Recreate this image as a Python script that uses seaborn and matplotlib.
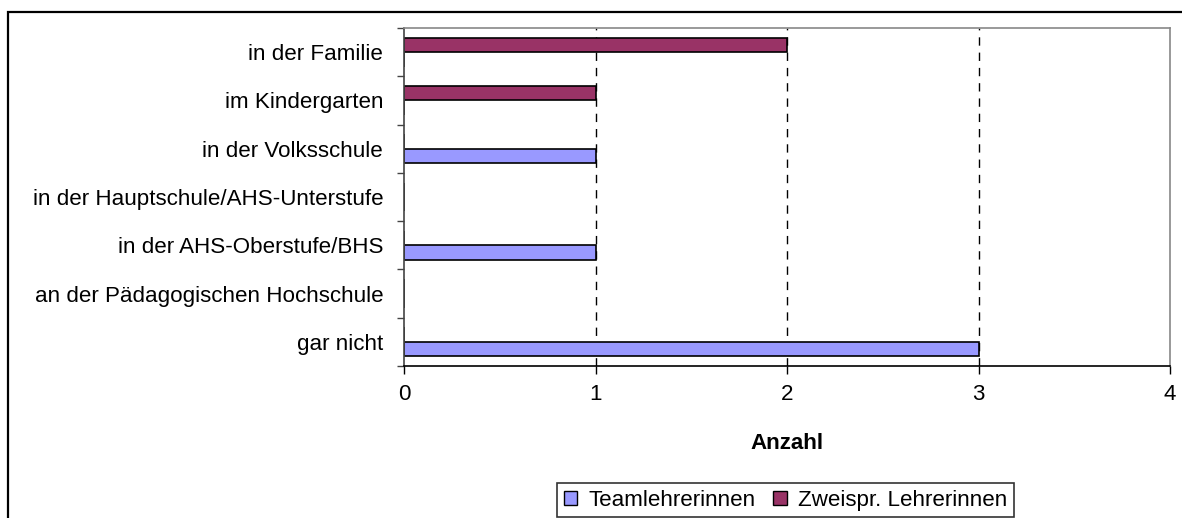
import matplotlib
matplotlib.use("Agg")
import matplotlib.pyplot as plt
import seaborn as sns
import pandas as pd
from matplotlib.patches import Rectangle, Patch

categories = ["in der Familie", "im Kindergarten", "in der Volksschule",
              "in der Hauptschule/AHS-Unterstufe", "in der AHS-Oberstufe/BHS",
              "an der Pädagogischen Hochschule", "gar nicht"]
team = [0, 0, 1, 0, 1, 0, 3]
zweispr = [2, 1, 0, 0, 0, 0, 0]
series_names = ["Teamlehrerinnen", "Zweispr. Lehrerinnen"]
x_ticks = [0, 1, 2, 3, 4]

sns.set_theme(style="white")
plt.rcParams["font.family"] = ["Liberation Sans", "DejaVu Sans"]
plt.rcParams["text.color"] = "black"
plt.rcParams["axes.labelcolor"] = "black"
plt.rcParams["xtick.color"] = "black"
plt.rcParams["ytick.color"] = "black"

df = pd.DataFrame({
    "Kategorie": categories * 2,
    "Gruppe": [series_names[0]] * len(categories) + [series_names[1]] * len(categories),
    "Anzahl": team + zweispr,
})

colors = {series_names[0]: "#9999FF", series_names[1]: "#993366"}
FS = 16.1

fig = plt.figure(figsize=(11.82, 5.18), dpi=100)
W, H = 1182, 518
ax = fig.add_axes([404 / W, 1 - 366 / H, (1170 - 404) / W, (366 - 28) / H])

sns.barplot(data=df, y="Kategorie", x="Anzahl", hue="Gruppe",
            hue_order=[series_names[1], series_names[0]], order=categories,
            palette=colors, saturation=1, width=0.6, edgecolor="black", linewidth=1.2,
            orient="h", ax=ax, legend=False)

ax.set_xlim(0, 4)
ax.set_xticks(x_ticks)
ax.set_xticklabels([str(t) for t in x_ticks], fontsize=FS)
ax.set_ylim(len(categories) - 0.5, -0.5)
ax.set_yticks([i for i in range(len(categories))])
ax.set_yticklabels(categories, fontsize=FS)
ax.set_ylabel("")
ax.set_xlabel("Anzahl", fontsize=FS, fontweight="bold", labelpad=20)

# category boundary ticks on y axis
ax.set_yticks([i - 0.5 for i in range(len(categories) + 1)], minor=True)
ax.tick_params(axis="y", which="major", left=True, length=0, pad=15)
ax.tick_params(axis="y", which="minor", left=True, length=5, width=1, color="#444444", direction="out")
ax.tick_params(axis="x", which="major", bottom=True, length=6, width=1, color="black", direction="out", pad=7)

for v in [1, 2, 3]:
    ax.axvline(v, color="black", linestyle=(0, (6, 5)), linewidth=1, zorder=0)

for side in ["top", "right"]:
    ax.spines[side].set_color("#888888")
    ax.spines[side].set_linewidth(1.2)
ax.spines["left"].set_color("#444444")
ax.spines["bottom"].set_color("black")
for side in ["left", "bottom"]:
    ax.spines[side].set_linewidth(1.2)

handles = [Patch(facecolor=colors[n], edgecolor="black", label=n) for n in series_names]
leg = fig.legend(handles=handles, loc="upper left",
                 bbox_to_anchor=(557 / W, 1 - 483 / H), ncol=2, fontsize=FS,
                 frameon=True, fancybox=False, edgecolor="black",
                 handlelength=0.6, handleheight=0.6, handletextpad=0.5,
                 columnspacing=0.8, borderpad=0.3, borderaxespad=0)
leg.get_frame().set_linewidth(1.2)

fig.patches.append(Rectangle((8 / W, -0.1), 1.2, 1 - 12 / H + 0.1,
                             transform=fig.transFigure, fill=False,
                             edgecolor="black", linewidth=1.6, zorder=10))

fig.savefig("out.png", dpi=100)
